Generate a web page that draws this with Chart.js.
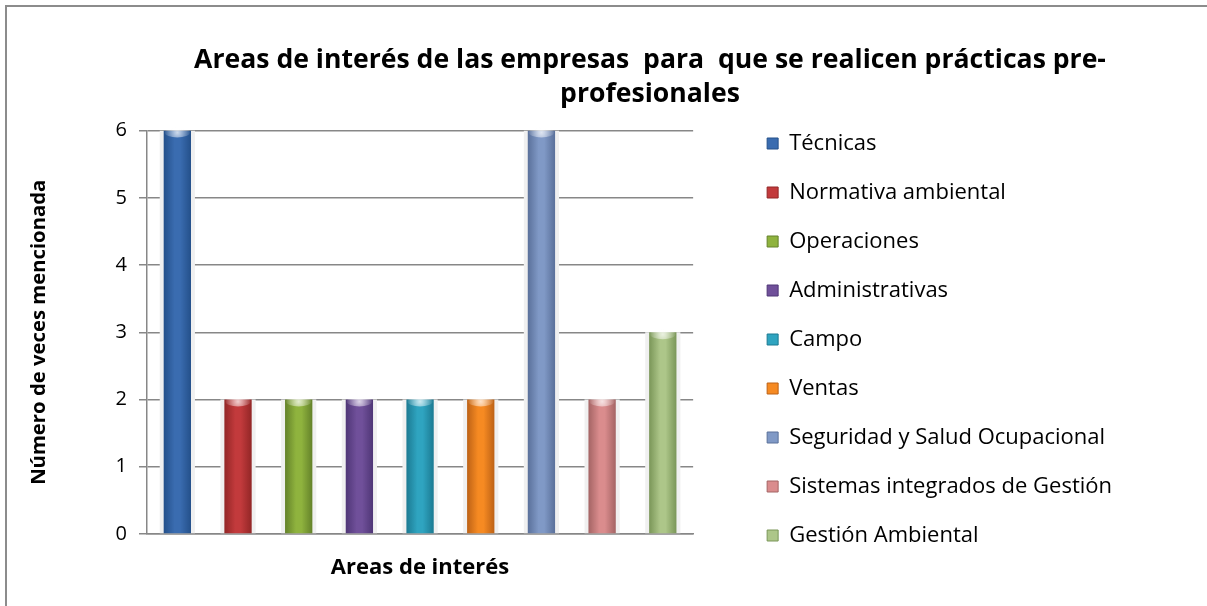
<!DOCTYPE html>
<html>
<head>
<meta charset="utf-8">
<script src="https://cdn.jsdelivr.net/npm/chart.js@4.4.1/dist/chart.umd.min.js"></script>
<style>
    html, body { margin: 0; padding: 0; background: #fff; overflow: hidden; }
    #clip { position: fixed; left: 0; top: 0; width: 1207px; height: 606px; overflow: hidden; background: #fff; }
    #wrap {
        position: absolute; left: 5px; top: 5px;
        width: 1286px; height: 599px;
        border-left: 2px solid #8c8c8c; border-top: 2px solid #8c8c8c;
    }
</style>
</head>
<body>
<div id="clip"><div id="wrap"><canvas id="areasChart" width="1286" height="599"></canvas></div></div>
<script>
    // areas de interes y numero de veces mencionada
    var areas = ["Técnicas", "Normativa ambiental", "Operaciones", "Administrativas", "Campo",
        "Ventas", "Seguridad y Salud Ocupacional", "Sistemas integrados de Gestión", "Gestión Ambiental"];
    var menciones = [6, 2, 2, 2, 2, 2, 6, 2, 3];
    var yTicks = [0, 1, 2, 3, 4, 5, 6];

    var colCentro = ["#3a6cb0", "#c23a3c", "#8fb33e", "#70509a", "#2fa4c0", "#f68a22", "#8099c6", "#da8c8d", "#adc689"];
    var colBorde = ["#24508a", "#922626", "#64822a", "#4f3676", "#1c7a92", "#bd6216", "#5a709a", "#a46464", "#7a9658"];

    var FONT = "Open Sans";

    function barGradient(context) {
        var chart = context.chart;
        var x = chart.scales.x;
        var i = context.dataIndex;
        if (!x || x.getPixelForValue(i) === undefined) return colCentro[i];
        var cx = x.getPixelForValue(i);
        var w = (x.width / areas.length) * 0.45;
        var g = chart.ctx.createLinearGradient(cx - w / 2, 0, cx + w / 2, 0);
        g.addColorStop(0, colBorde[i]);
        g.addColorStop(0.4, colCentro[i]);
        g.addColorStop(0.6, colCentro[i]);
        g.addColorStop(1, colBorde[i]);
        return g;
    }

    // brillo en la parte superior de cada barra
    var brillo = {
        id: "brillo",
        afterDatasetsDraw: function (chart) {
            var meta = chart.getDatasetMeta(1);
            var ctx = chart.ctx;
            ctx.save();
            meta.data.forEach(function (bar) {
                var p = bar.getProps(["x", "y", "width"], true);
                var grad = ctx.createRadialGradient(p.x, p.y + 2, 0, p.x, p.y + 2, p.width / 2);
                grad.addColorStop(0, "rgba(255,255,255,0.75)");
                grad.addColorStop(1, "rgba(255,255,255,0)");
                ctx.fillStyle = grad;
                ctx.beginPath();
                ctx.ellipse(p.x, p.y + 2, p.width / 2 - 1, 5, 0, 0, Math.PI * 2);
                ctx.fill();
            });
            ctx.restore();
        }
    };

    var ctx = document.getElementById("areasChart");
    new Chart(ctx, {
        type: "bar",
        data: {
            labels: areas,
            datasets: [
                {
                    label: "sombra",
                    data: menciones,
                    backgroundColor: "#f0f0f0",
                    barPercentage: 0.58,
                    categoryPercentage: 1,
                    grouped: false,
                    order: 2
                },
                {
                    label: "Número de veces mencionada",
                    data: menciones,
                    backgroundColor: barGradient,
                    barPercentage: 0.45,
                    categoryPercentage: 1,
                    grouped: false,
                    order: 1
                }
            ]
        },
        plugins: [brillo],
        options: {
            responsive: false,
            animation: false,
            layout: { padding: { left: 17, right: 17, top: 0, bottom: 0 } },
            plugins: {
                tooltip: { enabled: false },
                title: {
                    display: true,
                    text: ["Areas de interés de las empresas  para  que se realicen prácticas pre-", "profesionales"],
                    color: "#000",
                    font: { family: FONT, size: 26.6, weight: "bold", lineHeight: 1.27 },
                    padding: { top: 37, bottom: 19 }
                },
                legend: {
                    position: "right",
                    align: "center",
                    maxWidth: 600,
                    title: { display: true, text: "", font: { size: 2, lineHeight: 1 }, padding: { top: 64, bottom: 0 } },
                    labels: {
                        color: "#000",
                        font: { family: FONT, size: 22 },
                        boxWidth: 11,
                        boxHeight: 11,
                        padding: 27,
                        generateLabels: function () {
                            return areas.map(function (a, i) {
                                return {
                                    text: a,
                                    fillStyle: colCentro[i],
                                    strokeStyle: colBorde[i],
                                    fontColor: "#000",
                                    lineWidth: 1,
                                    hidden: false,
                                    index: i
                                };
                            });
                        }
                    },
                    onClick: function () {}
                }
            },
            scales: {
                x: {
                    grid: { display: false },
                    border: { color: "#878787", width: 1.5 },
                    ticks: { display: false },
                    title: {
                        display: true,
                        text: "Areas de interés",
                        color: "#000",
                        font: { family: FONT, size: 22, weight: "bold" },
                        padding: { top: 0, bottom: 25 }
                    },
                    afterFit: function (s) { s.height = 72; }
                },
                y: {
                    min: 0,
                    max: 6,
                    afterBuildTicks: function (s) {
                        s.ticks = yTicks.map(function (v) { return { value: v }; });
                    },
                    grid: { color: "#878787", lineWidth: 1.5, tickLength: 8, tickColor: "#878787" },
                    border: { color: "#878787", width: 1.5 },
                    ticks: {
                        color: "#000",
                        font: { family: FONT, size: 20 },
                        padding: 12
                    },
                    title: {
                        display: true,
                        text: "Número de veces mencionada",
                        color: "#000",
                        font: { family: FONT, size: 20.3, weight: "bold" },
                        padding: { top: 3, bottom: 0 }
                    },
                    afterFit: function (s) { s.width = 123; }
                },
                espacio: {
                    type: "linear",
                    position: "right",
                    display: true,
                    grid: { display: false, drawTicks: false },
                    border: { display: false },
                    ticks: { display: false },
                    afterFit: function (s) { s.width = 47; }
                },
                margen: {
                    type: "linear",
                    position: "right",
                    weight: 2000,
                    display: true,
                    grid: { display: false, drawTicks: false },
                    border: { display: false },
                    ticks: { display: false },
                    afterFit: function (s) { s.width = 154; }
                }
            }
        }
    });
</script>
</body>
</html>
